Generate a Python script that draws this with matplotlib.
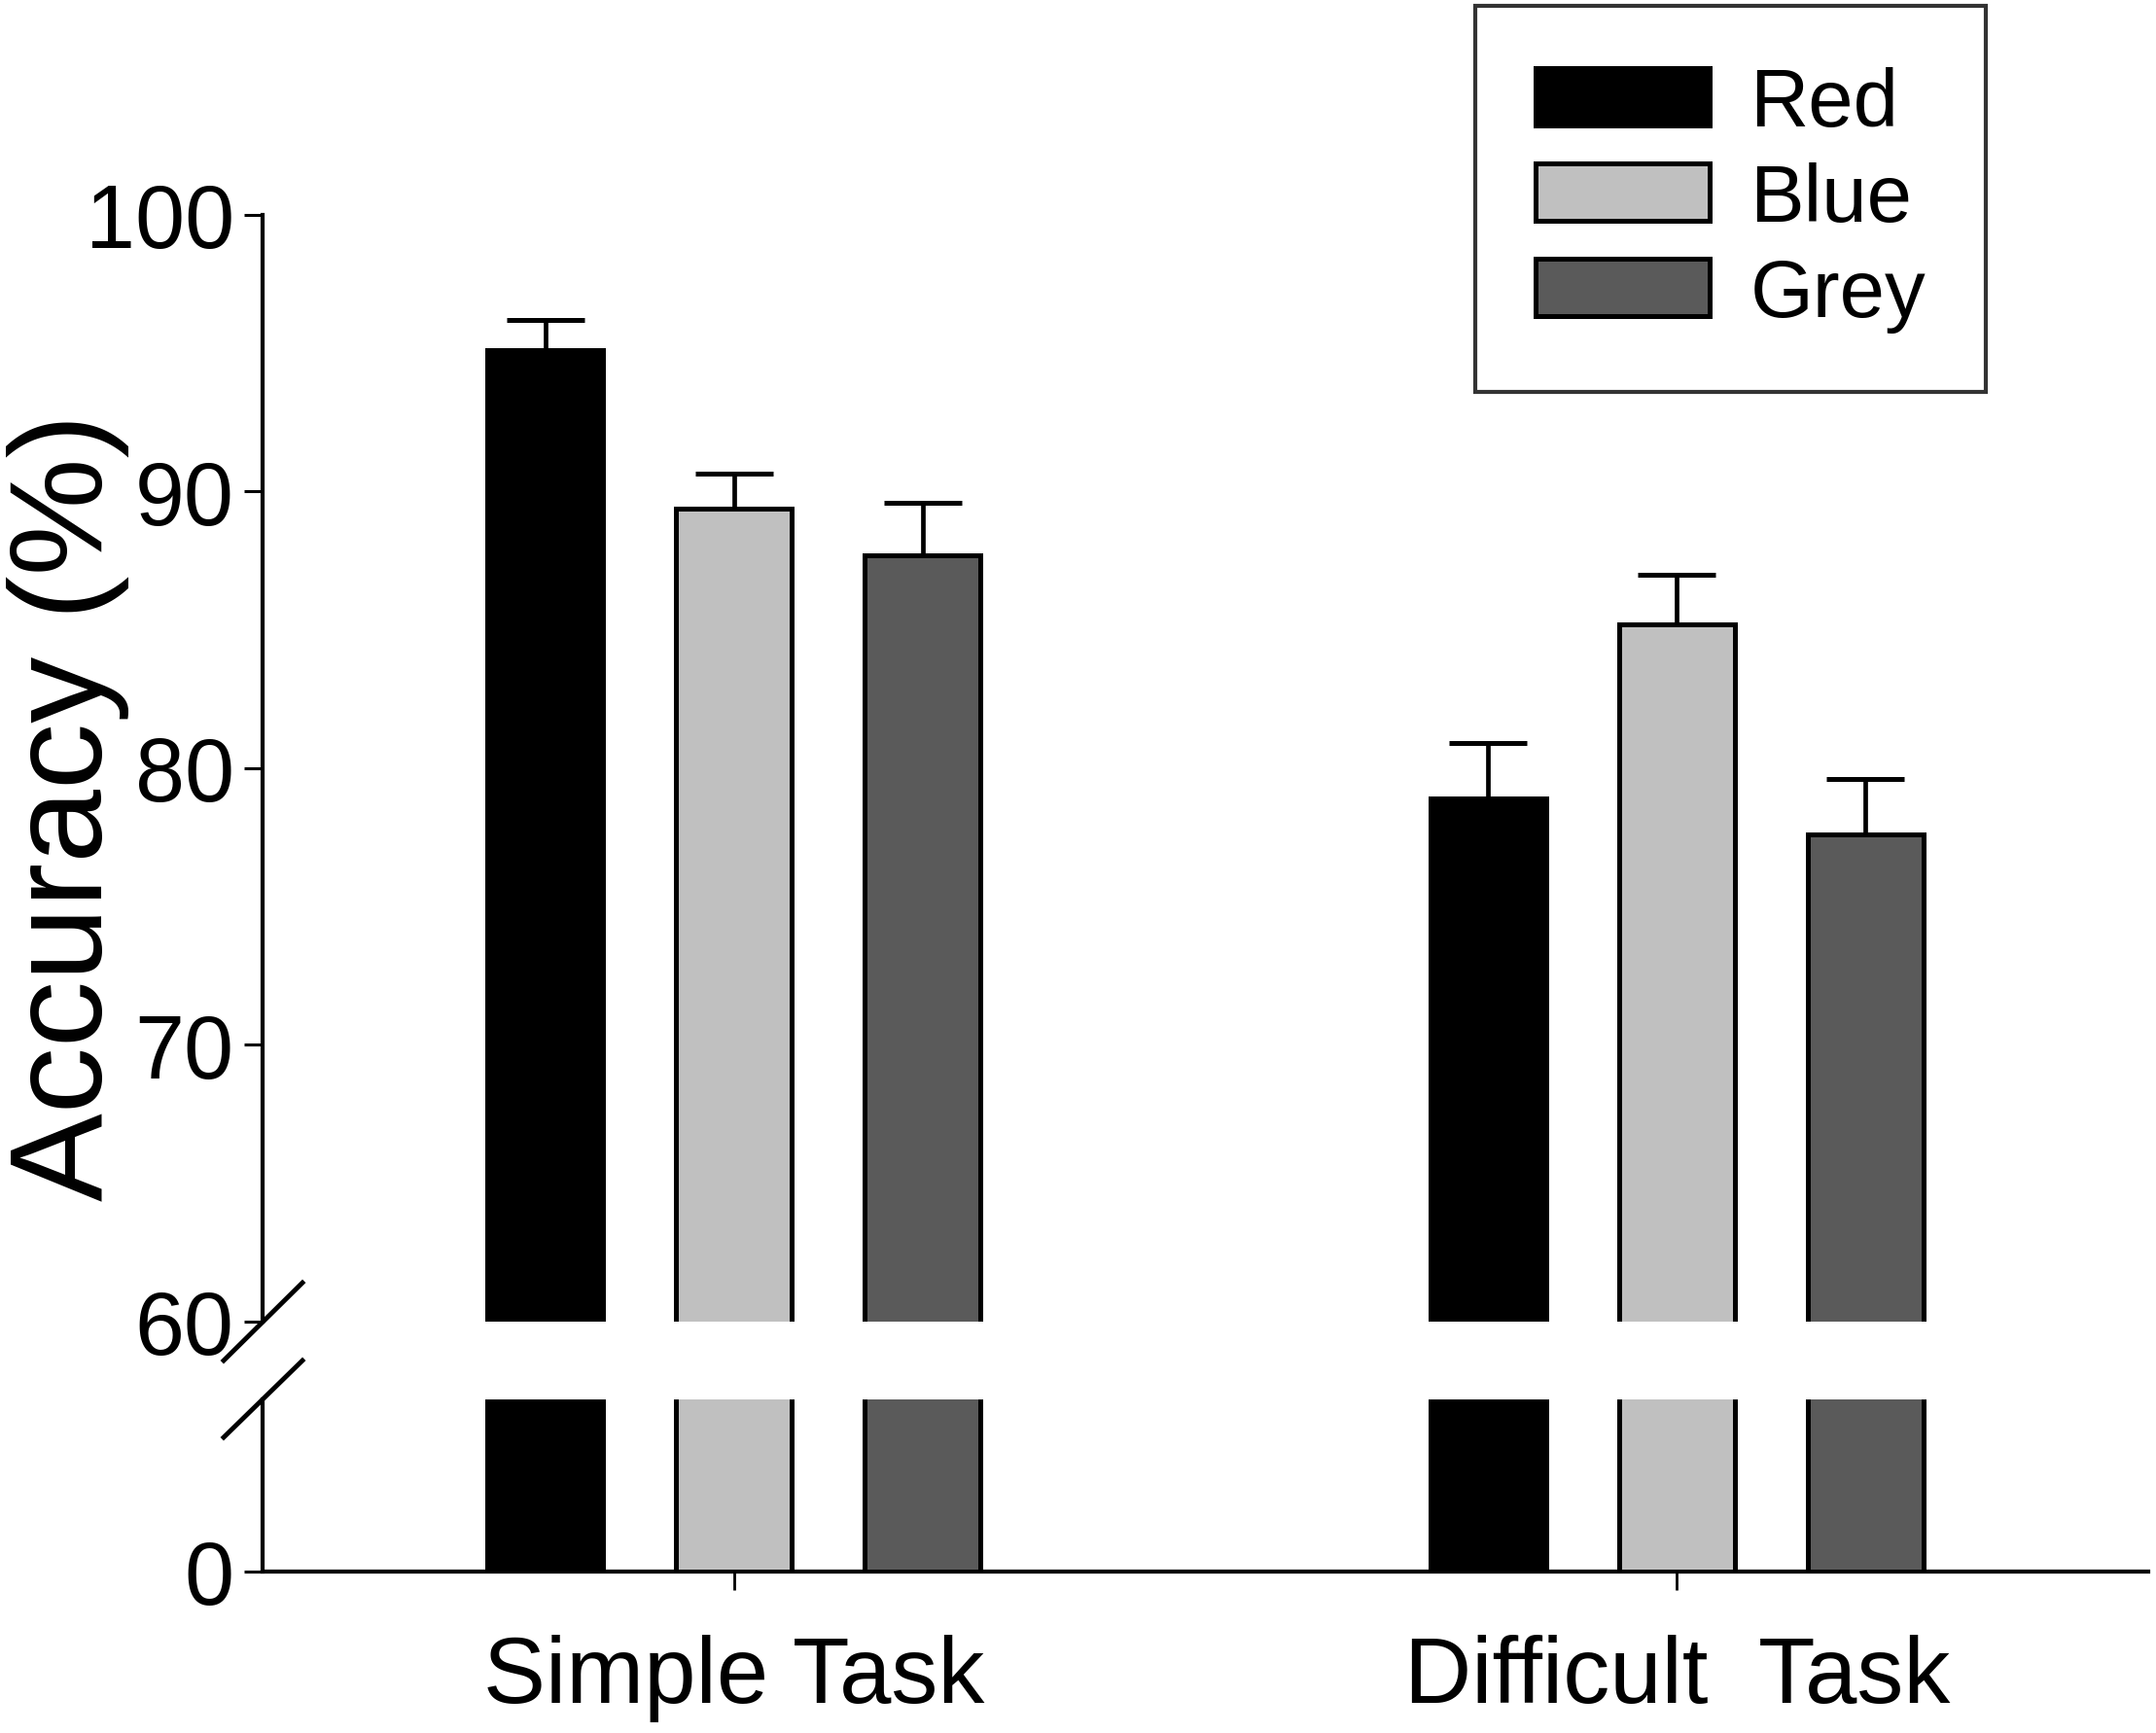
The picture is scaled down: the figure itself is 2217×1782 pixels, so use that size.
import numpy as np
import matplotlib
matplotlib.use('Agg')
import matplotlib.pyplot as plt
from matplotlib.lines import Line2D

plt.rcParams['font.family'] = ['Liberation Sans', 'DejaVu Sans']

# data
tasks = ['Simple Task', 'Difficult  Task']
colours = ['Red', 'Blue', 'Grey']
red_mean = [95.1, 78.9]
blue_mean = [89.4, 85.2]
grey_mean = [87.7, 77.6]
red_err = [1.1, 2.0]
blue_err = [1.25, 1.8]
grey_err = [1.9, 2.0]

fills = ['#000000', '#c0c0c0', '#5a5a5a']
means = [red_mean, blue_mean, grey_mean]
errs = [red_err, blue_err, grey_err]

W, H = 2217, 1783
fig = plt.figure(figsize=(W / 100, H / 100), dpi=100)

left = 270 / W
width = 2209 / W - left
ax_top = fig.add_axes([left, 1 - 1360 / H, width, (1360 - 222) / H])
ax_bot = fig.add_axes([left, 1 - 1617 / H, width, (1617 - 1440) / H])

x = np.arange(len(tasks))
offs = [-0.2, 0.0, 0.2]
bw = 0.1226

for ax in (ax_top, ax_bot):
    for i in range(3):
        ax.bar(x + offs[i], means[i], bw, color=fills[i], edgecolor='black',
               linewidth=3.6, label=colours[i], zorder=3)
    ax.set_xlim(-0.5, 1.5)
    ax.spines['top'].set_visible(False)
    ax.spines['right'].set_visible(False)
    ax.spines['left'].set_linewidth(3)
    ax.spines['bottom'].set_linewidth(3)
    ax.tick_params(axis='y', direction='out', length=14, width=2.2,
                   labelsize=66, pad=7)

for i in range(3):
    ax_top.errorbar(x + offs[i], means[i], yerr=[np.zeros(2), errs[i]],
                    fmt='none', ecolor='black', elinewidth=3.4, capsize=29,
                    capthick=3.6, zorder=2)

ax_top.set_ylim(60, 100)
ax_top.set_yticks([60, 70, 80, 90, 100])
ax_top.spines['bottom'].set_visible(False)
ax_top.tick_params(axis='x', bottom=False, labelbottom=False)

ax_bot.set_ylim(0, 15)
ax_bot.set_yticks([0])
ax_bot.set_xticks(x)
ax_bot.set_xticklabels(tasks)
ax_bot.tick_params(axis='x', direction='out', length=14, width=2,
                   labelsize=69, pad=32)

# axis break marks
for y0, y1 in [(1400, 1320), (1479, 1400)]:
    fig.add_artist(Line2D([230 / W, 311 / W], [1 - y0 / H, 1 - y1 / H],
                          transform=fig.transFigure, color='black', lw=3.5))

fig.text(70 / W, 1 - 830 / H, 'Accuracy (%)', rotation=90, fontsize=98,
         ha='center', va='center')

leg = ax_top.legend(loc='upper right', bbox_to_anchor=(2042 / W, 1 - 7 / H),
                    bbox_transform=fig.transFigure, fontsize=60,
                    frameon=True, fancybox=False, edgecolor='black',
                    handlelength=2.15, handleheight=0.72, handletextpad=0.5,
                    labelspacing=0.24, borderpad=0.74, borderaxespad=0)
leg.get_frame().set_linewidth(3)

fig.savefig('out.png', dpi=100, facecolor='white')
